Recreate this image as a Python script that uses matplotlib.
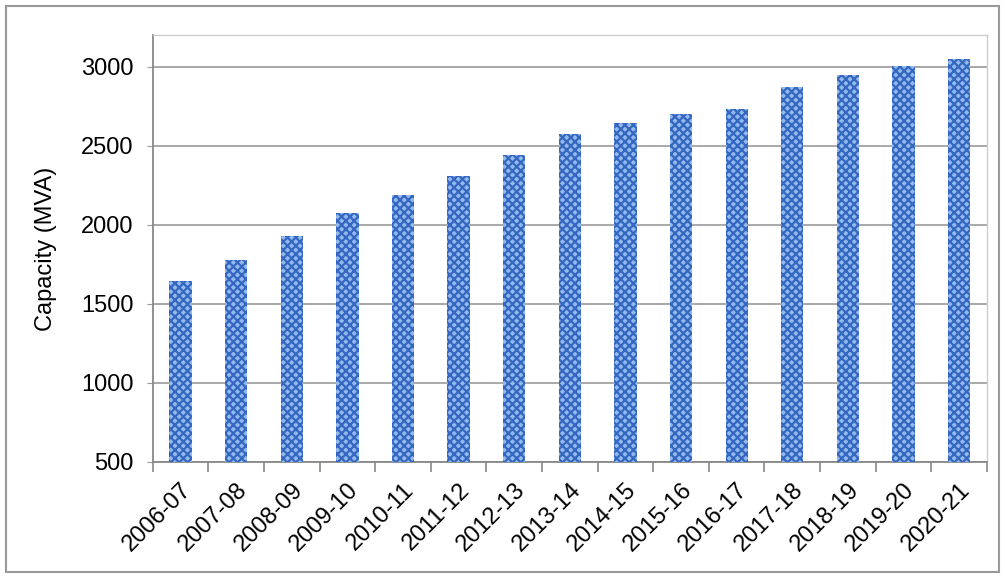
import numpy as np
import matplotlib.pyplot as plt
from matplotlib.patches import Rectangle

plt.rcParams['font.family'] = ['Liberation Sans', 'DejaVu Sans']
plt.rcParams['hatch.linewidth'] = 1.6

# data
years = ['2006-07', '2007-08', '2008-09', '2009-10', '2010-11', '2011-12', '2012-13',
         '2013-14', '2014-15', '2015-16', '2016-17', '2017-18', '2018-19', '2019-20', '2020-21']
capacity = [1645, 1780, 1930, 2075, 2190, 2310, 2440, 2575, 2645, 2700, 2735, 2870, 2950, 3005, 3050]
yticks = [500, 1000, 1500, 2000, 2500, 3000]

fig = plt.figure(figsize=(10.05, 5.78), dpi=100)
ax = fig.add_axes([0.152, 0.2007, 0.83, 0.7387])

x = np.arange(len(years))
ax.bar(x, capacity, width=0.4, color='#94b9ee', edgecolor='#3468c0', hatch='xxxx',
       linewidth=0, zorder=3)

ax.set_ylim(500, 3200)
ax.set_xlim(-0.5, len(years) - 0.5)
ax.set_yticks(yticks)
ax.set_yticklabels([str(v) for v in yticks], fontsize=17)
ax.tick_params(axis='y', length=4, color='#999999', pad=10)
ax.yaxis.grid(True, color='#999999', linewidth=1.2, zorder=0)

ax.set_xticks(x)
ax.set_xticklabels(years, rotation=45, ha='right', rotation_mode='anchor', fontsize=17)
ax.tick_params(axis='x', which='major', length=0, pad=12)
ax.set_xticks(np.arange(-0.5, len(years)), minor=True)
ax.tick_params(axis='x', which='minor', length=7, width=1.2, color='#888888', direction='out')

ax.set_ylabel('Capacity (MVA)', fontsize=17)
ax.yaxis.set_label_coords(-0.115, 0.5)

for side in ['left', 'bottom']:
    ax.spines[side].set_color('#888888')
    ax.spines[side].set_linewidth(1.3)
for side in ['top', 'right']:
    ax.spines[side].set_color('#cccccc')
    ax.spines[side].set_linewidth(1.0)

fig.patches.append(Rectangle((0.006, 0.01), 0.988, 0.98, transform=fig.transFigure,
                             fill=False, edgecolor='#999999', linewidth=1.5))

fig.savefig('out.png', dpi=100)
